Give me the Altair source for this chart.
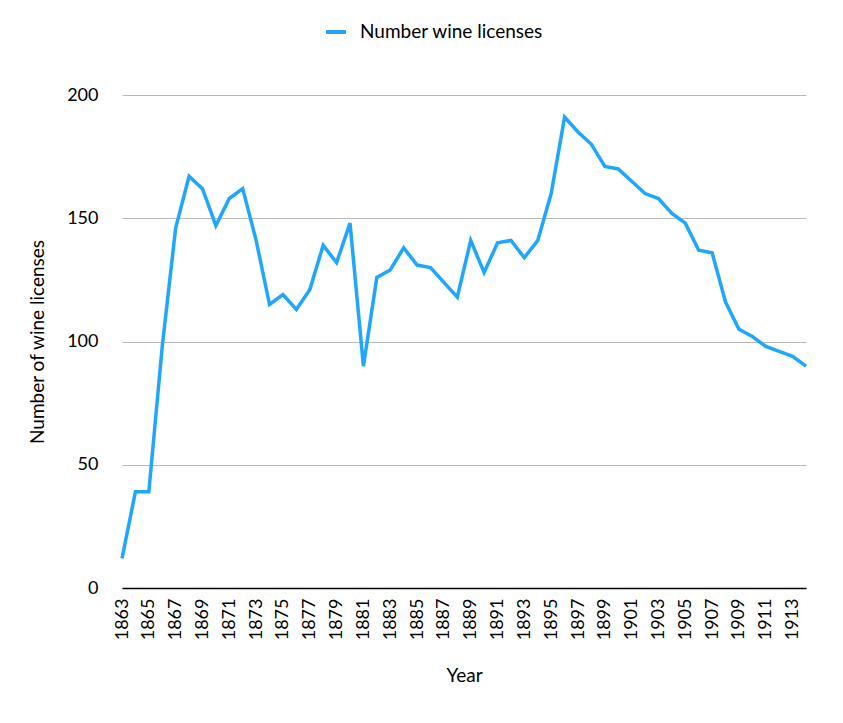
import altair as alt
import pandas as pd

years = list(range(1863, 1915))
licenses = [12, 39, 39, 98, 146, 167, 162, 147, 158, 162,
            141, 115, 119, 113, 121, 139, 132, 148, 90, 126,
            129, 138, 131, 130, 124, 118, 141, 128, 140, 141,
            134, 141, 160, 191, 185, 180, 171, 170, 165, 160,
            158, 152, 148, 137, 136, 116, 105, 102, 98, 96,
            94, 90]
series_name = "Number wine licenses"
x_tick_values = list(range(1863, 1914, 2))
y_tick_values = [0, 50, 100, 150, 200]

df = pd.DataFrame({"Year": years, "Licenses": licenses, "Series": [series_name] * len(years)})

FONT = "Lato"

chart = alt.Chart(df).mark_line(strokeWidth=3.5, strokeJoin="miter").encode(
    x=alt.X("Year:Q",
            scale=alt.Scale(domain=[1863, 1914], nice=False, zero=False),
            axis=alt.Axis(values=x_tick_values, format="d", labelAngle=270,
                          labelAlign="right", labelBaseline="middle",
                          labelPadding=10, ticks=False, tickSize=0, grid=False,
                          domainColor="#000000", domainWidth=1.5,
                          labelFontSize=18, labelColor="#000000", labelFont=FONT,
                          title="Year", titleFontSize=19, titleFontWeight="normal",
                          titleFont=FONT, titleColor="#000000",
                          titleY=87, titleBaseline="middle", labelOverlap=False)),
    y=alt.Y("Licenses:Q",
            scale=alt.Scale(domain=[0, 200], nice=False),
            axis=alt.Axis(values=y_tick_values, ticks=False, tickSize=0,
                          domain=False, grid=True, gridColor="#b8b8b8", gridWidth=1,
                          labelPadding=24, labelFontSize=18, labelColor="#000000",
                          labelFont=FONT,
                          title="Number of wine licenses", titleFontSize=19,
                          titleFontWeight="normal", titleFont=FONT, titleColor="#000000",
                          titleX=-85, titleBaseline="middle")),
    color=alt.Color("Series:N",
                    scale=alt.Scale(domain=[series_name], range=["#1fa6ff"]),
                    legend=alt.Legend(title=None, orient="none", legendX=202, legendY=-75,
                                      symbolType="stroke", symbolStrokeWidth=4,
                                      symbolSize=400, labelFontSize=19,
                                      labelFont=FONT, labelColor="#000000",
                                      labelOffset=12, labelLimit=0)),
).properties(
    width=684, height=493,
    padding={"left": 114, "top": 87, "right": 29, "bottom": 100},
    autosize=alt.AutoSizeParams(type="none"),
).configure_view(stroke=None)

chart.save("out.html", embed_options={"renderer": "svg", "actions": False})
